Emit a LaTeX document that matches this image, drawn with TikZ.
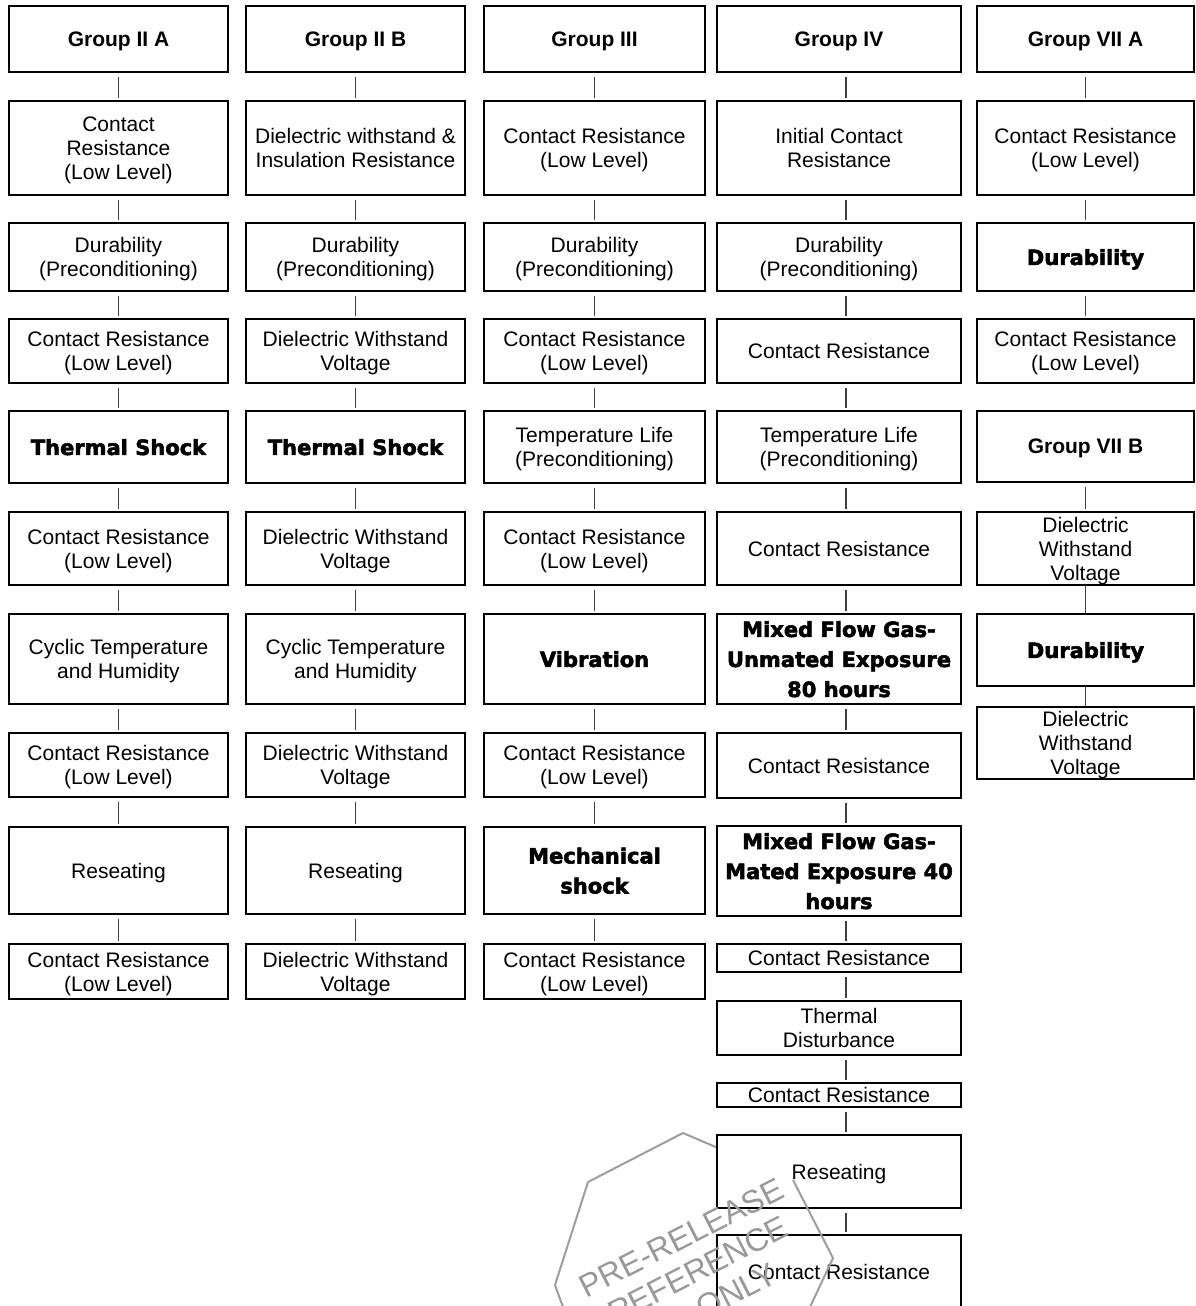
\documentclass[tikz,border=0pt]{standalone}
\usepackage{fontspec}
\setmainfont{Liberation Sans}
\newfontfamily\heavyfont[FakeBold=2.5]{DejaVu Sans}

\begin{document}
\begin{tikzpicture}[x=1pt, y=-1pt,
    stage/.style={draw, line width=2.4pt, fill=white, align=center, inner sep=0pt,
        text depth=0pt, font=\fontsize{21}{24}\selectfont},
    head/.style={stage, font=\fontsize{21}{24}\selectfont\bfseries},
    heavy/.style={stage, font=\fontsize{21}{30}\selectfont\heavyfont\bfseries},
    colA/.style={minimum width=219pt},
    colB/.style={minimum width=219pt},
    colC/.style={minimum width=221pt},
    colD/.style={minimum width=244pt},
    colE/.style={minimum width=217pt},
    r1/.style={minimum height=65.6pt},
    r2/.style={minimum height=93.6pt},
    r3/.style={minimum height=67.6pt},
    r4/.style={minimum height=63.6pt},
    r5/.style={minimum height=71.6pt},
    r6/.style={minimum height=72.6pt},
    r7/.style={minimum height=89.6pt},
    r8/.style={minimum height=63.6pt},
    r9/.style={minimum height=86.6pt},
    r10/.style={minimum height=54.6pt},
    link/.style={line width=1.3pt, draw=black!75, shorten <=4pt, shorten >=2pt},
    joint/.style={line width=1.3pt, draw=black!75},
    stamp/.style={draw=black!38, line width=2pt},
    stamptext/.style={text=black!40, font=\fontsize{32}{36}\selectfont, rotate=27, align=center},
]
    \useasboundingbox (0,0) rectangle (1196,1306);
    \fill[white] (0,0) rectangle (1196,1306);
    \clip (0,0) rectangle (1196,1306);

    % Stempel (oberer Rand, hinter den Kaesten)
    \draw[stamp] (683,1133) -- (793,1180);

    % Group II A
    \node[head, colA, r1] (a1) at (118.5,39) {Group II A};
    \node[stage, colA, r2] (a2) at (118.5,148) {Contact\\Resistance\\(Low Level)};
    \node[stage, colA, r3] (a3) at (118.5,257) {Durability\\(Preconditioning)};
    \node[stage, colA, r4] (a4) at (118.5,351) {Contact Resistance\\(Low Level)};
    \node[heavy, colA, r5] (a5) at (118.5,447) {Thermal Shock};
    \node[stage, colA, r6] (a6) at (118.5,548.5) {Contact Resistance\\(Low Level)};
    \node[stage, colA, r7] (a7) at (118.5,659) {Cyclic Temperature\\and Humidity};
    \node[stage, colA, r8] (a8) at (118.5,765) {Contact Resistance\\(Low Level)};
    \node[stage, colA, r9] (a9) at (118.5,870.5) {Reseating};
    \node[stage, colA, r10] (a10) at (118.5,971.5) {Contact Resistance\\(Low Level)};

    % Group II B
    \node[head, colB, r1] (b1) at (355.5,39) {Group II B};
    \node[stage, colB, r2] (b2) at (355.5,148) {Dielectric withstand \&\\Insulation Resistance};
    \node[stage, colB, r3] (b3) at (355.5,257) {Durability\\(Preconditioning)};
    \node[stage, colB, r4] (b4) at (355.5,351) {Dielectric Withstand\\Voltage};
    \node[heavy, colB, r5] (b5) at (355.5,447) {Thermal Shock};
    \node[stage, colB, r6] (b6) at (355.5,548.5) {Dielectric Withstand\\Voltage};
    \node[stage, colB, r7] (b7) at (355.5,659) {Cyclic Temperature\\and Humidity};
    \node[stage, colB, r8] (b8) at (355.5,765) {Dielectric Withstand\\Voltage};
    \node[stage, colB, r9] (b9) at (355.5,870.5) {Reseating};
    \node[stage, colB, r10] (b10) at (355.5,971.5) {Dielectric Withstand\\Voltage};

    % Group III
    \node[head, colC, r1] (c1) at (594.5,39) {Group III};
    \node[stage, colC, r2] (c2) at (594.5,148) {Contact Resistance\\(Low Level)};
    \node[stage, colC, r3] (c3) at (594.5,257) {Durability\\(Preconditioning)};
    \node[stage, colC, r4] (c4) at (594.5,351) {Contact Resistance\\(Low Level)};
    \node[stage, colC, r5] (c5) at (594.5,447) {Temperature Life\\(Preconditioning)};
    \node[stage, colC, r6] (c6) at (594.5,548.5) {Contact Resistance\\(Low Level)};
    \node[heavy, colC, r7] (c7) at (594.5,659) {Vibration};
    \node[stage, colC, r8] (c8) at (594.5,765) {Contact Resistance\\(Low Level)};
    \node[heavy, colC, r9] (c9) at (594.5,870.5) {Mechanical\\shock};
    \node[stage, colC, r10] (c10) at (594.5,971.5) {Contact Resistance\\(Low Level)};

    % Group IV
    \node[head, colD, r1] (d1) at (839,39) {Group IV};
    \node[stage, colD, r2] (d2) at (839,148) {Initial Contact\\Resistance};
    \node[stage, colD, r3] (d3) at (839,257) {Durability\\(Preconditioning)};
    \node[stage, colD, r4] (d4) at (839,351) {Contact Resistance};
    \node[stage, colD, r5] (d5) at (839,447) {Temperature Life\\(Preconditioning)};
    \node[stage, colD, r6] (d6) at (839,548.5) {Contact Resistance};
    \node[heavy, colD, r7] (d7) at (839,659) {Mixed Flow Gas-\\Unmated Exposure\\80 hours};
    \node[stage, colD, minimum height=64.6pt] (d8) at (839,765.5) {Contact Resistance};
    \node[heavy, colD, minimum height=89.6pt] (d9) at (839,871) {Mixed Flow Gas-\\Mated Exposure 40\\hours};
    \node[stage, colD, minimum height=27.6pt] (d10) at (839,958) {Contact Resistance};
    \node[stage, colD, minimum height=53.6pt] (d11) at (839,1028) {Thermal\\Disturbance};
    \node[stage, colD, minimum height=23.6pt] (d12) at (839,1095) {Contact Resistance};
    \node[stage, colD, minimum height=72.6pt] (d13) at (839,1171.5) {Reseating};
    \node[stage, colD, minimum height=73.6pt] (d14) at (839,1272) {Contact Resistance};

    % Group VII A / VII B
    \node[head, colE, r1] (e1) at (1085.5,39) {Group VII A};
    \node[stage, colE, r2] (e2) at (1085.5,148) {Contact Resistance\\(Low Level)};
    \node[heavy, colE, r3] (e3) at (1085.5,257) {Durability};
    \node[stage, colE, r4] (e4) at (1085.5,351) {Contact Resistance\\(Low Level)};
    \node[head, colE, minimum height=70.6pt] (e5) at (1085.5,446.5) {Group VII B};
    \node[stage, colE, minimum height=72.6pt] (e6) at (1085.5,548.5) {Dielectric\\Withstand\\Voltage};
    \node[heavy, colE, minimum height=71.6pt] (e7) at (1085.5,650) {Durability};
    \node[stage, colE, minimum height=71.6pt] (e8) at (1085.5,743) {Dielectric\\Withstand\\Voltage};

    % Verbindungen
    \foreach \col in {a,b,c} {
        \foreach \i [count=\j from 2] in {1,...,9}
            \draw[link] (\col\i) -- (\col\j);
    }
    \foreach \i [count=\j from 2] in {1,...,13}
        \draw[link] ([xshift=7pt]d\i.south) -- ([xshift=7pt]d\j.north);
    \foreach \u/\v in {e1/e2, e2/e3, e3/e4, e5/e6}
        \draw[link] (\u) -- (\v);
    \foreach \u/\v in {e6/e7, e7/e8}
        \draw[joint] (\u) -- (\v);

    % Stempel
    \draw[stamp] (793,1180) -- (833,1258) -- (787,1356) -- (575,1340)
        -- (555,1285) -- (588,1182) -- (683,1133);
    \node[stamptext] (wm) at (698,1270) {PRE-RELEASE\\REFERENCE\\\hspace*{50pt}ONLY};
\end{tikzpicture}
\end{document}
